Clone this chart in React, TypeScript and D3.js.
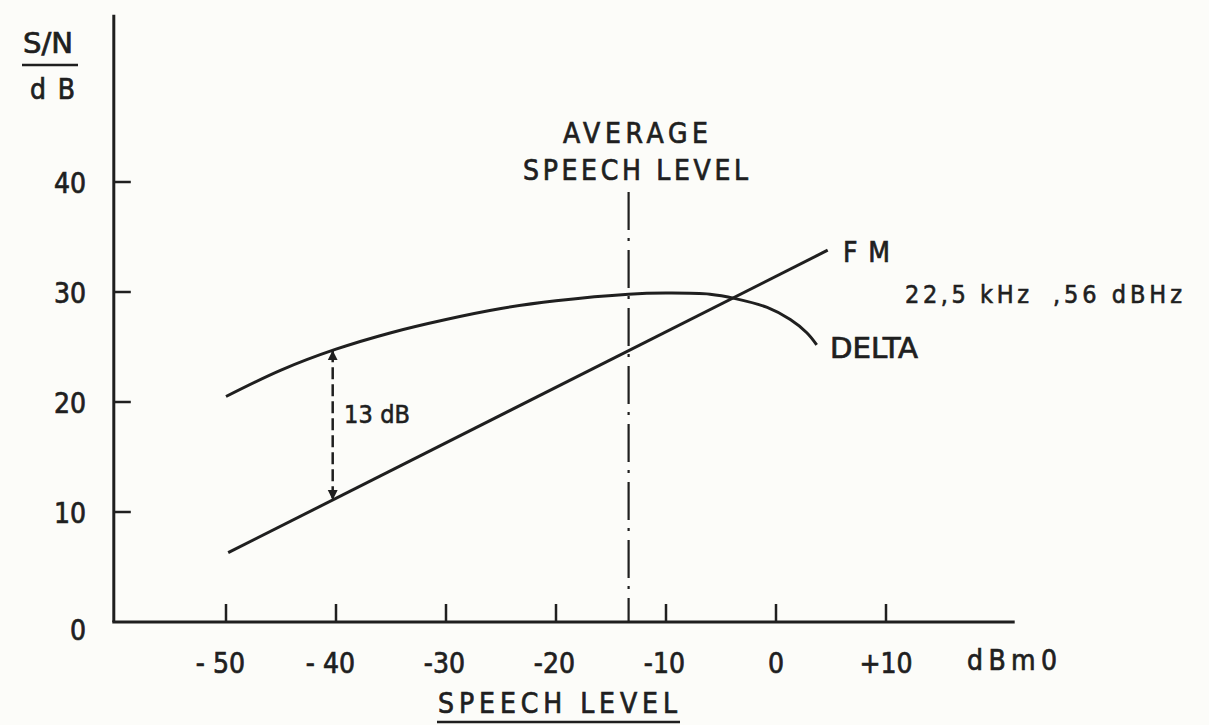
import React from 'react';
import * as d3 from 'd3';

// speech level (dBm0) vs S/N (dB)
const xTicks = [-50, -40, -30, -20, -10, 0, 10];
const xTickLabels = ['- 50', '- 40', '-30', '-20', '-10', '0', '+10'];
const yTicks = [0, 10, 20, 30, 40];
const yTickLabels = ['0', '10', '20', '30', '40'];

const fmLine: [number, number][] = [[-49.8, 6.3], [4.7, 33.8]];
const deltaCurve: [number, number][] = [
  [-50, 20.5], [-45, 22.9], [-40, 24.8], [-35, 26.3], [-30, 27.5], [-25, 28.5],
  [-20, 29.2], [-13.4, 29.8], [-10, 29.9], [-6, 29.8], [-3.7, 29.4], [-0.8, 28.6],
  [1.3, 27.5], [2.8, 26.3], [3.7, 25.2],
];
const avgSpeechLevel = -13.4;
const avgLineTop = 39.1;
const gapAt = -40.3;
const gapFrom = 24.7;
const gapTo = 11.1;
const xAxisExtent = [-60.2, 21.7];
const yAxisTop = 55.2;

const W = 1209;
const H = 725;
const ink = '#1f1f1f';
const font = "'DejaVu Sans Condensed', 'DejaVu Sans', sans-serif";

const App = () => {
  const x = d3.scaleLinear().domain([-50, 10]).range([226, 886]);
  const y = d3.scaleLinear().domain([0, 40]).range([622, 182]);

  const line = d3.line<[number, number]>().x(d => x(d[0])).y(d => y(d[1]));
  const curve = d3.line<[number, number]>().x(d => x(d[0])).y(d => y(d[1])).curve(d3.curveCatmullRom);

  const x0 = x(xAxisExtent[0]);

  // negatives right-aligned so the digits sit over the tick, others centred
  const labelX = (v: number) => (v < 0 ? x(v) + 19 : x(v));

  return (
    <svg width={W} height={H} style={{ position: 'absolute', left: 0, top: 0, background: '#fcfcf9' }}
      fontFamily={font} fill={ink} stroke={ink} strokeWidth={0} >
      <defs>
        <marker id="arr" viewBox="0 0 10 10" refX="10" refY="5" markerWidth="4" markerHeight="5"
          orient="auto-start-reverse" markerUnits="strokeWidth">
          <path d="M0,0 L10,5 L0,10 z" fill={ink} />
        </marker>
      </defs>

      {/* axes */}
      <line x1={x0} x2={x0} y1={y(yAxisTop)} y2={y(0)} stroke={ink} strokeWidth={3} />
      <line x1={x0 - 1.5} x2={x(xAxisExtent[1])} y1={y(0)} y2={y(0)} stroke={ink} strokeWidth={3} />
      {xTicks.map(v => (
        <line key={'xt' + v} x1={x(v)} x2={x(v)} y1={y(0)} y2={y(0) - 18} stroke={ink} strokeWidth={2.5} />
      ))}
      {yTicks.filter(v => v > 0).map(v => (
        <line key={'yt' + v} x1={x0} x2={x0 + 17} y1={y(v)} y2={y(v)} stroke={ink} strokeWidth={2.5} />
      ))}

      <g strokeWidth={0.7} fontSize={28}>
        {/* tick labels */}
        {xTicks.map((v, i) => (
          <text key={'xl' + v} x={labelX(v)} y={673}
            textAnchor={v < 0 ? 'end' : 'middle'}>{xTickLabels[i]}</text>
        ))}
        {yTicks.map((v, i) => (
          <text key={'yl' + v} x={86} y={y(v) + (v === 0 ? 18 : 11)} textAnchor="end">{yTickLabels[i]}</text>
        ))}

        {/* axis titles */}
        <text x={23} y={53} textLength={50} lengthAdjust="spacingAndGlyphs">S/N</text>
        <text x={30} y={99} textLength={45} lengthAdjust="spacing">d B</text>
        <text x={967} y={670} textLength={90} lengthAdjust="spacing">dBm0</text>
        <text x={438} y={713} textLength={239} lengthAdjust="spacing">SPEECH LEVEL</text>

        <text x={563} y={143} textLength={145} lengthAdjust="spacing">AVERAGE</text>
        <text x={523} y={180} textLength={225} lengthAdjust="spacing">SPEECH LEVEL</text>

        {/* series labels */}
        <text x={843} y={262} textLength={47} lengthAdjust="spacing">FM</text>
        <text x={830} y={358} textLength={88} lengthAdjust="spacingAndGlyphs">DELTA</text>
      </g>
      <g strokeWidth={0.6} fontSize={25}>
        <text x={344} y={423} textLength={66} lengthAdjust="spacing">13 dB</text>
        <text x={905} y={303} textLength={124} lengthAdjust="spacing">22,5 kHz</text>
        <text x={1053} y={303} textLength={129} lengthAdjust="spacing">,56 dBHz</text>
      </g>

      <line x1={22} x2={78} y1={65} y2={65} stroke={ink} strokeWidth={2.5} />
      <line x1={437} x2={680} y1={722} y2={722} stroke={ink} strokeWidth={2.5} />

      {/* average speech level marker */}
      <line x1={x(avgSpeechLevel)} x2={x(avgSpeechLevel)} y1={y(avgLineTop)} y2={y(0)}
        stroke={ink} strokeWidth={2.2} strokeDasharray="38 8 3 9" />

      {/* curves */}
      <path d={line(fmLine) || ''} fill="none" stroke={ink} strokeWidth={3} />
      <path d={curve(deltaCurve) || ''} fill="none" stroke={ink} strokeWidth={3} />

      {/* 13 dB gap */}
      <line x1={x(gapAt)} x2={x(gapAt)} y1={y(gapFrom)} y2={y(gapTo)} stroke={ink} strokeWidth={2.5}
        strokeDasharray="12 5" markerStart="url(#arr)" markerEnd="url(#arr)" />
    </svg>
  );
};

export default App;
